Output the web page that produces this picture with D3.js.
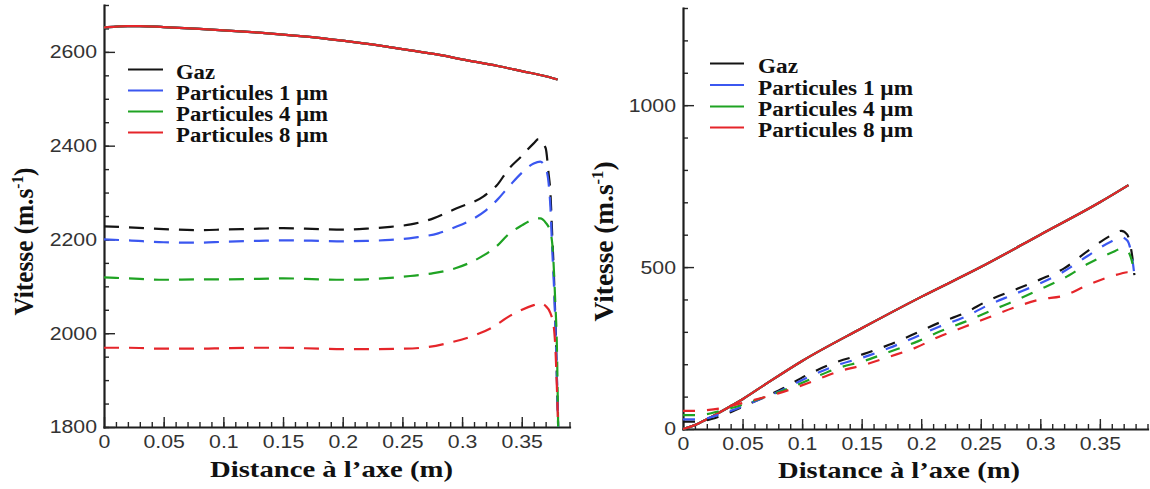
<!DOCTYPE html>
<html><head><meta charset="utf-8">
<script src="https://cdn.jsdelivr.net/npm/d3@7"></script>
<style>
html,body{margin:0;padding:0;background:#fff;}
svg{display:block;background:#fff;}
</style></head><body>
<svg id="c" width="1150" height="489"></svg>
<script>
// ---------- DATA ----------
const seriesNames = ["Gaz", "Particules 1 µm", "Particules 4 µm", "Particules 8 µm"];
const xTickValues = [0, 0.05, 0.1, 0.15, 0.2, 0.25, 0.3, 0.35];
const xTickLabels = ["0", "0.05", "0.1", "0.15", "0.2", "0.25", "0.3", "0.35"];
const leftYTickValues = [1800, 2000, 2200, 2400, 2600];
const leftYTickLabels = ["1800", "2000", "2200", "2400", "2600"];
const rightYTickValues = [0, 500, 1000];
const rightYTickLabels = ["0", "500", "1000"];

// Left panel : solid curves (all four overlap)
const leftSolid = [[0,2652],[0.01,2654],[0.02,2655],[0.03,2655],[0.05,2653],[0.08,2649],[0.1,2646],[0.13,2641],[0.15,2637],[0.18,2630],[0.2,2624],[0.23,2614],[0.25,2606],[0.28,2594],[0.3,2584],[0.33,2570],[0.35,2559],[0.37,2548],[0.38,2541]];
// Left panel : dashed curves
const leftGaz = [[0,2228],[0.02,2226],[0.05,2222],[0.08,2220],[0.1,2221],[0.13,2223],[0.15,2224],[0.18,2222],[0.2,2221],[0.22,2223],[0.24,2227],[0.257,2232],[0.276,2245],[0.295,2266],[0.318,2292],[0.33,2318],[0.338,2347],[0.35,2378],[0.36,2405],[0.364,2414],[0.37,2395],[0.3725,2340],[0.374,2300],[0.3755,2210],[0.377,2120],[0.3785,2000],[0.3795,1900],[0.3805,1800]];
const leftP1 = [[0,2200],[0.02,2198],[0.05,2194],[0.08,2193],[0.1,2195],[0.13,2197],[0.15,2198],[0.18,2197],[0.2,2196],[0.22,2197],[0.24,2199],[0.26,2204],[0.28,2213],[0.295,2227],[0.31,2245],[0.32,2262],[0.33,2286],[0.34,2315],[0.35,2342],[0.36,2362],[0.3655,2366],[0.37,2352],[0.3725,2320],[0.374,2270],[0.3755,2180],[0.377,2100],[0.3785,1990],[0.3795,1900],[0.3805,1800]];
const leftP4 = [[0,2119],[0.02,2117],[0.05,2114],[0.08,2115],[0.1,2115],[0.13,2116],[0.15,2117],[0.18,2115],[0.2,2114],[0.22,2115],[0.2565,2122],[0.276,2128],[0.295,2139],[0.318,2166],[0.33,2188],[0.338,2209],[0.35,2230],[0.36,2243],[0.3655,2245],[0.37,2236],[0.374,2216],[0.376,2177],[0.378,2071],[0.3795,1964],[0.3805,1800]];
const leftP8 = [[0,1969],[0.02,1969],[0.05,1967],[0.08,1967],[0.1,1968],[0.13,1969],[0.15,1969],[0.18,1967],[0.2,1966],[0.22,1966],[0.25,1967],[0.27,1970],[0.29,1980],[0.31,1995],[0.325,2012],[0.34,2037],[0.36,2060],[0.3655,2064],[0.37,2058],[0.374,2043],[0.377,2010],[0.3785,1950],[0.3795,1880],[0.3805,1800]];

// Right panel : solid curves (all four overlap)
const rightSolid = [[0,0],[0.01,12],[0.02,30],[0.03,50],[0.05,92],[0.07,140],[0.1,210],[0.15,311],[0.2,408],[0.25,500],[0.3,600],[0.35,700],[0.374,753]];
// Right panel : dashed curves
const rightGaz = [[0,23],[0.012,23],[0.02,27],[0.03,38],[0.04,52],[0.05,68],[0.06,85],[0.08,118],[0.108,174],[0.13,208],[0.152,232],[0.173,260],[0.194,293],[0.215,328],[0.236,357],[0.257,398],[0.278,429],[0.3,462],[0.32,496],[0.34,550],[0.36,599],[0.368,612],[0.373,600],[0.376,560],[0.378,510],[0.379,475]];
const rightP1 = [[0,30],[0.012,30],[0.02,33],[0.03,44],[0.04,56],[0.05,70],[0.06,85],[0.08,115],[0.108,165],[0.13,198],[0.152,222],[0.173,250],[0.194,282],[0.215,316],[0.236,345],[0.257,384],[0.278,416],[0.3,450],[0.32,487],[0.34,535],[0.36,580],[0.368,592],[0.373,582],[0.376,550],[0.378,505],[0.379,475]];
const rightP4 = [[0,43],[0.012,43],[0.02,46],[0.03,55],[0.04,64],[0.05,75],[0.06,88],[0.08,113],[0.108,155],[0.13,188],[0.152,210],[0.173,238],[0.194,266],[0.215,300],[0.236,330],[0.257,363],[0.278,395],[0.3,432],[0.32,466],[0.34,510],[0.36,545],[0.368,556],[0.373,550],[0.376,530],[0.378,500],[0.379,475]];
const rightP8 = [[0,56],[0.012,56],[0.02,58],[0.03,63],[0.04,72],[0.05,80],[0.06,90],[0.08,110],[0.108,146],[0.13,177],[0.152,198],[0.173,223],[0.194,249],[0.215,285],[0.236,315],[0.257,345],[0.278,375],[0.3,400],[0.32,412],[0.34,445],[0.36,472],[0.368,480],[0.373,484],[0.376,484],[0.378,478],[0.379,470]];

// ---------- STYLE / LAYOUT ----------
const colors = ["#141414", "#3b57f0", "#1fa323", "#e5252a"];
const svg = d3.select("#c");
const STRETCH = 1.15;
const tickFont = "'Liberation Sans', Arial, sans-serif";
const serif = "'Liberation Serif', 'Times New Roman', serif";

function stretchText(sel) {
  sel.each(function() {
    const t = d3.select(this);
    const x = +t.attr("x") || 0;
    t.attr("transform", `translate(${x},0) scale(${STRETCH},1) translate(${-x},0)`);
  });
}

function panel(cfg) {
  const x = d3.scaleLinear().domain([0, 0.39]).range(cfg.xr);
  const y = d3.scaleLinear().domain(cfg.yd).range(cfg.yr);
  const g = svg.append("g");

  const xMinor = d3.range(1, 40).map(i => i / 100);
  const yMinor = d3.range(cfg.yd[0], cfg.yd[1] + 1, cfg.yMinorStep);

  const base = cfg.yr[0];
  const left = cfg.xr[0];

  // minor ticks
  g.append("g").attr("transform", `translate(0,${base})`)
    .call(d3.axisBottom(x).tickValues(xMinor).tickSize(-5).tickSizeOuter(0).tickFormat(""))
    .call(s => s.select(".domain").remove());
  g.append("g").attr("transform", `translate(${left},0)`)
    .call(d3.axisLeft(y).tickValues(yMinor).tickSize(-5).tickSizeOuter(0).tickFormat(""))
    .call(s => s.select(".domain").remove());

  // major ticks + labels
  const xa = g.append("g").attr("transform", `translate(0,${base})`)
    .call(d3.axisBottom(x).tickValues(xTickValues).tickSize(-10).tickSizeOuter(0).tickPadding(8)
      .tickFormat((d, i) => xTickLabels[i]));
  const ya = g.append("g").attr("transform", `translate(${left},0)`)
    .call(d3.axisLeft(y).tickValues(cfg.yTicks).tickSize(-11).tickSizeOuter(0).tickPadding(7)
      .tickFormat((d, i) => cfg.yLabels[i]));

  g.selectAll(".tick line").attr("stroke", "#262626").attr("stroke-width", 1.4);
  g.selectAll(".domain").attr("stroke", "#1e1e1e").attr("stroke-width", 2.2).attr("stroke-linecap", "square");
  g.selectAll(".tick text").attr("font-family", tickFont).attr("font-size", 18.5).attr("fill", "#333");
  stretchText(xa.selectAll(".tick text"));
  stretchText(ya.selectAll(".tick text"));

  const line = d3.line().x(d => x(d[0])).y(d => y(d[1])).curve(d3.curveMonotoneX);

  // solid (all overlap; red last)
  colors.forEach(c => {
    g.append("path").datum(cfg.solid).attr("d", line)
      .attr("fill", "none").attr("stroke", c).attr("stroke-width", 2.2);
  });
  // dashed
  cfg.dashed.forEach((data, i) => {
    g.append("path").datum(data).attr("d", line)
      .attr("fill", "none").attr("stroke", colors[i]).attr("stroke-width", 2.2)
      .attr("stroke-dasharray", cfg.dash);
  });

  // legend
  seriesNames.forEach((name, i) => {
    const by = cfg.legBase[i];
    g.append("line").attr("x1", cfg.legX[0]).attr("x2", cfg.legX[1])
      .attr("y1", by - 9.5).attr("y2", by - 9.5)
      .attr("stroke", colors[i]).attr("stroke-width", 2.2);
    g.append("text").attr("x", cfg.legText).attr("y", by)
      .attr("font-family", serif).attr("font-weight", "bold").attr("font-size", 20)
      .attr("fill", "#111")
      .attr("textLength", i === 0 ? cfg.legW[0] : cfg.legW[1]).attr("lengthAdjust", "spacingAndGlyphs")
      .text(name);
  });

  // x title
  g.append("text").attr("x", cfg.xTitle[0]).attr("y", cfg.xTitle[1])
    .attr("text-anchor", "middle")
    .attr("font-family", serif).attr("font-weight", "bold").attr("font-size", 22.5)
    .attr("fill", "#111")
    .attr("textLength", cfg.xTitle[2]).attr("lengthAdjust", "spacingAndGlyphs")
    .text("Distance à l’axe (m)");

  // y title
  const yt = g.append("text")
    .attr("transform", `translate(${cfg.yTitle[0]},${cfg.yTitle[1]}) scale(${STRETCH},1) rotate(-90)`)
    .attr("text-anchor", "middle")
    .attr("font-family", serif).attr("font-weight", "bold").attr("font-size", 23)
    .attr("fill", "#111")
    .attr("textLength", cfg.yTitle[2]).attr("lengthAdjust", "spacingAndGlyphs");
  yt.append("tspan").text("Vitesse (m.s");
  yt.append("tspan").attr("font-size", 14).attr("dy", -9).text("-1");
  yt.append("tspan").attr("dy", 9).text(")");
}

panel({
  xr: [104, 569.5], yr: [427, 5], yd: [1800, 2700], yMinorStep: 50,
  yTicks: leftYTickValues, yLabels: leftYTickLabels,
  solid: leftSolid, dashed: [leftGaz, leftP1, leftP4, leftP8], dash: "15,10",
  legX: [128, 163], legText: 176, legBase: [79, 100, 121, 142], legW: [39, 152],
  xTitle: [331.5, 477, 243], yTitle: [33, 241.5, 148]
});
panel({
  xr: [683, 1147.5], yr: [429, 8], yd: [0, 1300], yMinorStep: 100,
  yTicks: rightYTickValues, yLabels: rightYTickLabels,
  solid: rightSolid, dashed: [rightGaz, rightP1, rightP4, rightP8], dash: "12,12",
  legX: [710, 744], legText: 758, legBase: [73, 94.5, 116, 137], legW: [40, 155],
  xTitle: [899, 478, 242], yTitle: [613, 241.5, 160]
});
</script>
</body></html>
